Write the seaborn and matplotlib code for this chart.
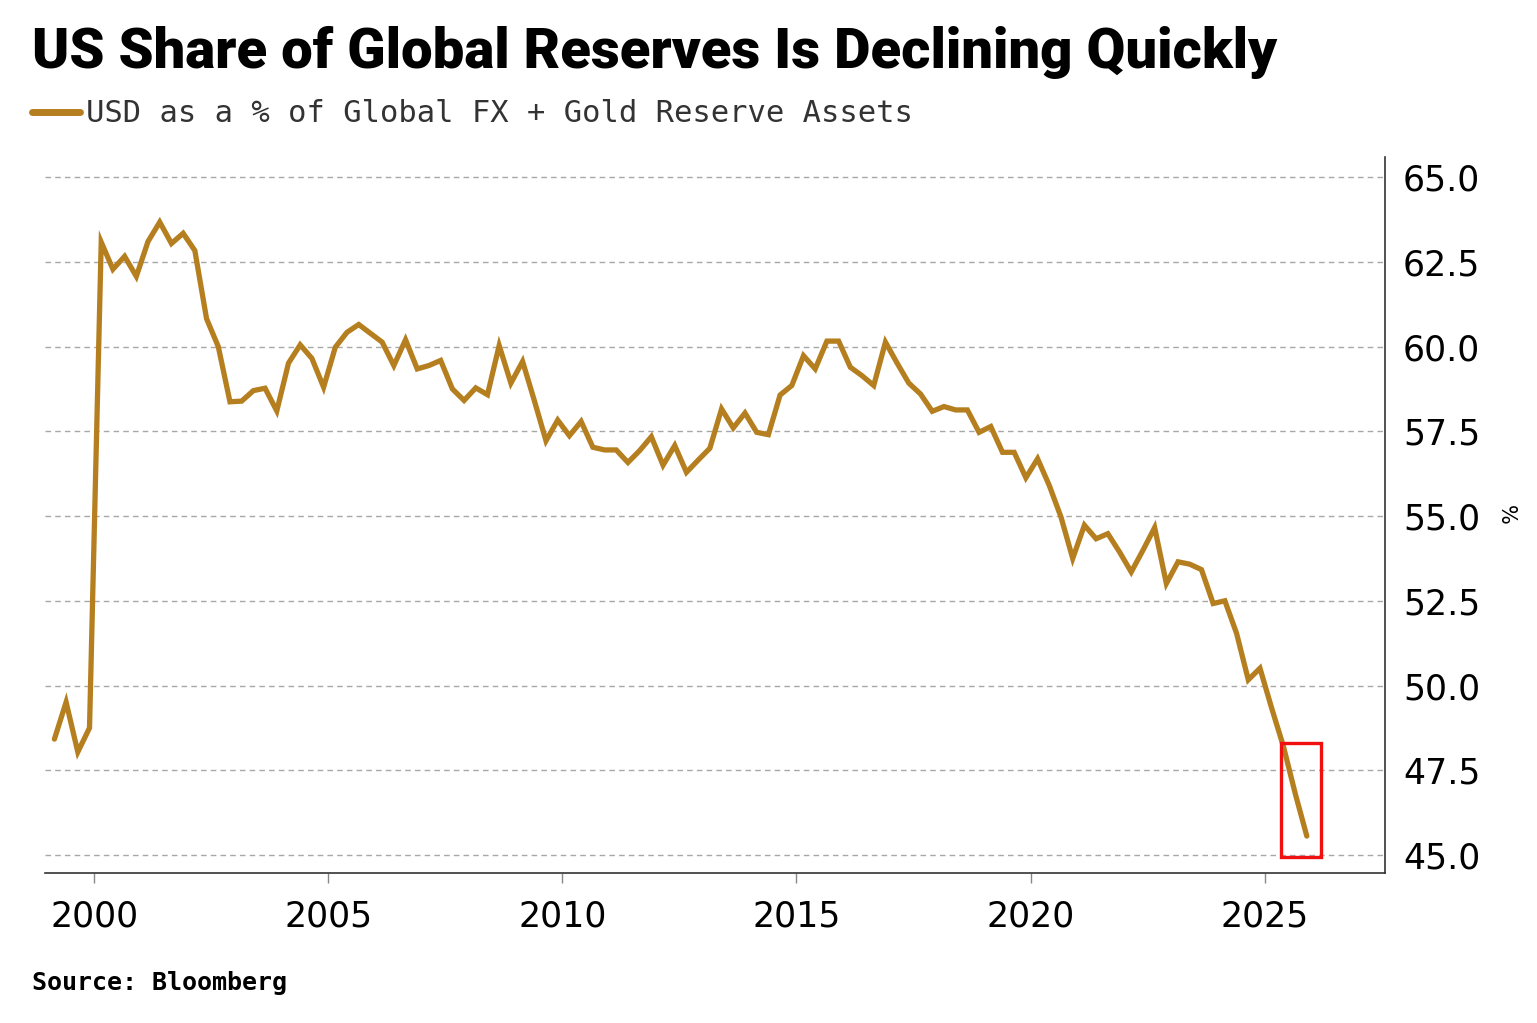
import numpy as np
import pandas as pd
import seaborn as sns
import matplotlib
matplotlib.use("Agg")
import matplotlib.pyplot as plt
from matplotlib.lines import Line2D
from matplotlib.patches import Rectangle

# USD share of global FX + gold reserves, quarterly
usd_share = [
    48.42, 49.51, 48.04, 48.75, 63.08, 62.28, 62.66, 62.07, 63.10, 63.67,
    63.04, 63.34, 62.83, 60.82, 60.00, 58.37, 58.39, 58.70, 58.77, 58.10,
    59.51, 60.05, 59.65, 58.80, 59.98, 60.42, 60.65, 60.39, 60.13, 59.44,
    60.20, 59.34, 59.44, 59.59, 58.75, 58.41, 58.78, 58.58, 60.03, 58.92,
    59.56, 58.41, 57.22, 57.83, 57.37, 57.79, 57.03, 56.95, 56.95, 56.58,
    56.93, 57.34, 56.50, 57.08, 56.29, 56.65, 57.00, 58.16, 57.60, 58.04,
    57.47, 57.40, 58.57, 58.85, 59.73, 59.34, 60.16, 60.16, 59.39, 59.14,
    58.85, 60.13, 59.51, 58.92, 58.60, 58.09, 58.23, 58.13, 58.13, 57.47,
    57.64, 56.88, 56.88, 56.13, 56.69, 55.90, 54.97, 53.75, 54.73, 54.33,
    54.48, 53.94, 53.35, 53.99, 54.66, 53.01, 53.65, 53.58, 53.42, 52.42,
    52.50, 51.54, 50.17, 50.51, 49.33, 48.21, 46.83, 45.56,
]
quarters = pd.period_range("1999Q1", periods=len(usd_share), freq="Q")
years = np.asarray(quarters.year + (quarters.quarter - 1) / 4 + 0.15)

x_ticks = [2000, 2005, 2010, 2015, 2020, 2025]
y_ticks = [45.0, 47.5, 50.0, 52.5, 55.0, 57.5, 60.0, 62.5, 65.0]

title = "US Share of Global Reserves Is Declining Quickly"
series_label = "USD as a % of Global FX + Gold Reserve Assets"
source = "Source: Bloomberg"

gold = "#B57F1F"

sns.set_style("white")
plt.rcParams["font.family"] = ["DejaVu Sans"]

fig = plt.figure(figsize=(15.37, 10.23), dpi=100)
ax = fig.add_axes([0.0293, 0.1466, 0.8718, 0.6999])

df = pd.DataFrame({"year": years, "share": usd_share})
sns.lineplot(data=df, x="year", y="share", ax=ax, color=gold, linewidth=3.8,
             solid_joinstyle="miter")

# highlight box around the latest readings
last = df.tail(3)
ax.add_patch(Rectangle((last["year"].min() - 0.05, 44.95),
                       last["year"].max() - last["year"].min() + 0.35,
                       last["share"].max() + 0.1 - 44.95,
                       fill=False, edgecolor="#F01010", linewidth=2.4, zorder=5))

ax.set_xlim(1998.95, 2027.57)
ax.set_ylim(44.47, 65.59)
ax.set_xticks(x_ticks)
ax.set_xticklabels([str(t) for t in x_ticks])
ax.set_yticks(y_ticks)
ax.set_yticklabels([f"{t:.1f}" for t in y_ticks])
ax.yaxis.tick_right()
ax.yaxis.set_label_position("right")
ax.set_xlabel("")
ax.set_ylabel("%", rotation=270, fontsize=15, labelpad=18, va="center",
              color="black")

ax.grid(axis="y", linestyle=(0, (4, 3)), color="#a8a8a8", linewidth=1.0)
ax.grid(axis="x", visible=False)
for side in ["top", "left"]:
    ax.spines[side].set_visible(False)
for side in ["bottom", "right"]:
    ax.spines[side].set_color("#333333")
    ax.spines[side].set_linewidth(1.2)

ax.tick_params(axis="x", bottom=True, length=7, width=1, color="#888888",
               labelsize=25, pad=12, labelcolor="black")
ax.tick_params(axis="y", right=True, length=0, labelsize=25, pad=13,
               labelcolor="black")

fig.text(32 / 1537, 1 - 68 / 1023, title, fontsize=40.5, fontweight="heavy",
         family=["Roboto"], va="baseline", color="black")

handle = Line2D([], [], color=gold, linewidth=5)
fig.legend([handle], [series_label], loc="center left",
           bbox_to_anchor=(4 / 1537, 1 - 114 / 1023), frameon=False,
           handlelength=1.6, handletextpad=0.2,
           prop={"family": "DejaVu Sans Mono", "size": 22}, labelcolor="#333333")

fig.text(32 / 1537, 1 - 990 / 1023, source, fontsize=18, fontweight="bold",
         family="DejaVu Sans Mono", va="baseline", color="black")

fig.savefig("out.png", dpi=100, facecolor="white")
